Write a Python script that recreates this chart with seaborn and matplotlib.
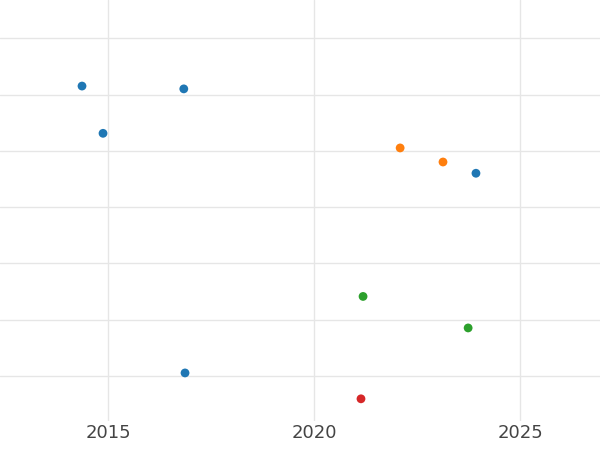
import matplotlib
matplotlib.use("Agg")
import matplotlib.pyplot as plt
import pandas as pd
import seaborn as sns

years = [2014.37, 2016.84, 2014.88, 2022.09, 2023.13, 2023.93, 2021.19, 2023.74, 2016.87, 2021.14]
values = [5.15, 5.10, 4.31, 4.05, 3.80, 3.60, 1.41, 0.85, 0.05, -0.41]
groups = ["A", "A", "A", "B", "B", "A", "C", "C", "A", "D"]

df = pd.DataFrame({"year": years, "value": values, "group": groups})

sns.set_style("white")
fig = plt.figure(figsize=(6, 4.5), dpi=100)
ax = fig.add_axes([0, 0.065, 1, 0.935])
sns.scatterplot(data=df, x="year", y="value", hue="group",
                palette=["#1f77b4", "#ff7f0e", "#2ca02c", "#d62728"],
                s=40, edgecolor="none", legend=False, ax=ax)

ax.set_xlim(2012.38, 2026.94)
ax.set_ylim(-0.8, 6.68)
ax.set_xticks([2015, 2020, 2025])
ax.set_yticks(range(0, 7))
ax.set_yticklabels([])
ax.grid(True, color="#e6e6e6", linewidth=1)
ax.set_axisbelow(True)
ax.tick_params(axis="x", labelsize=13, labelcolor="#444444", length=0, pad=2)
ax.tick_params(axis="y", length=0)
ax.set_xlabel("")
ax.set_ylabel("")
for s in ax.spines.values():
    s.set_visible(False)

fig.savefig("out.png", dpi=100)
